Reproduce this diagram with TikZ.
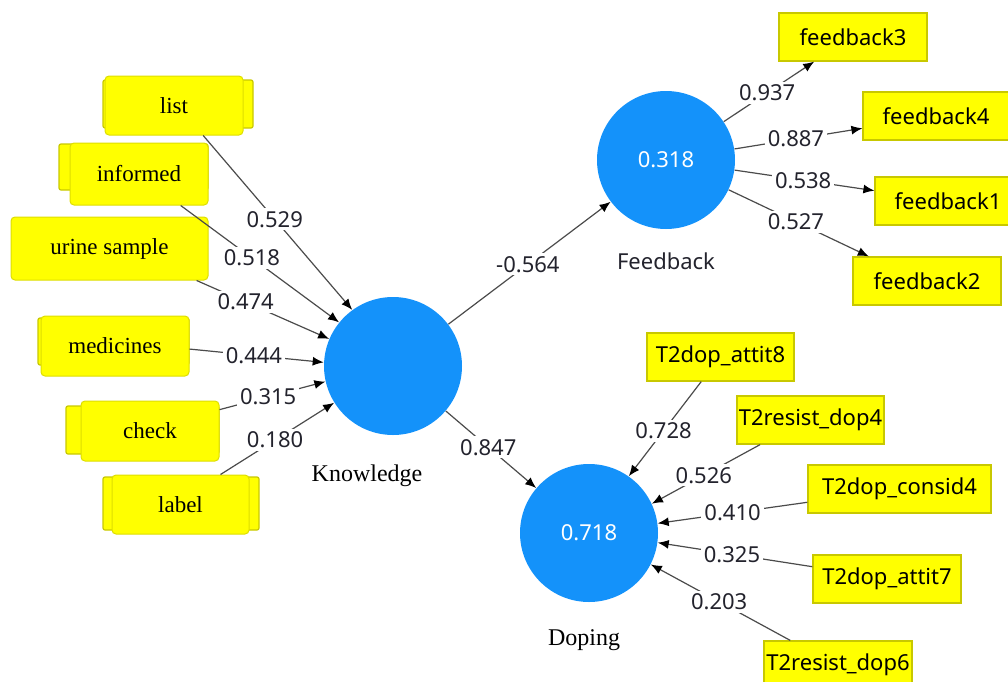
\documentclass[tikz,border=0pt]{standalone}
\usepackage{fontspec}
\setmainfont{Liberation Serif}
\setsansfont{Noto Sans}
\usetikzlibrary{calc,arrows.meta}
\definecolor{lvblue}{RGB}{20,146,250}
\definecolor{boxyellow}{RGB}{255,255,0}
\definecolor{boxedge}{RGB}{200,200,0}
\definecolor{linegray}{RGB}{75,75,75}
\definecolor{numcol}{RGB}{35,35,45}
\tikzset{
  latent/.style={circle, fill=lvblue, minimum size=69pt, inner sep=0pt, text=white,
    font=\sffamily\fontsize{11}{13}\selectfont},
  ind/.style={rectangle, fill=boxyellow, draw=boxedge, line width=0.6pt, minimum height=24pt,
    inner sep=0pt, font=\sffamily\fontsize{11}{13}\selectfont},
  frontbox/.style={rectangle, rounded corners=2pt, fill=boxyellow, draw=boxedge!60!boxyellow,
    line width=0.5pt, inner sep=0pt, font=\fontsize{11.5}{13}\selectfont},
  backbox/.style={rectangle, rounded corners=1pt, fill=boxyellow, draw=boxedge, line width=0.6pt, inner sep=0pt},
  lvname/.style={inner sep=0pt, font=\fontsize{12}{14}\selectfont},
  conn/.style={draw=linegray, line width=0.6pt, -{Latex[length=5.5pt,width=4.5pt,color=black]}},
  coef/.style={fill=white, inner sep=1.5pt, text=numcol, font=\sffamily\fontsize{11}{13}\selectfont},
}
\begin{document}
\begin{tikzpicture}[x=0.5pt, y=-0.5pt]
\useasboundingbox (0,0) rectangle (1008,681);
\clip (0,0) rectangle (1008,681);

% latent variables
\node[latent] (K) at (393,366) {};
\node[latent] (F) at (666,160) {0.318};
\node[latent] (D) at (589,533) {0.718};
\node[lvname] (Kn) at (367,476) {Knowledge};
\node[lvname, font=\sffamily\fontsize{11}{13}\selectfont, text=numcol] (Fn) at (666,261) {Feedback};
\node[lvname] (Dn) at (584,640) {Doping};

% knowledge indicators (back then front)
\node[backbox, minimum width=75pt, minimum height=24pt] (listb) at (178,104) {};
\node[frontbox, minimum width=69pt, minimum height=29.5pt] (list) at (174,105.5) {list};
\node[backbox, minimum width=74.5pt, minimum height=23pt] (informedb) at (133.5,167) {};
\node[frontbox, minimum width=69pt, minimum height=31pt] (informed) at (139,174) {informed};
\node[frontbox, minimum width=98.5pt, minimum height=31.5pt] (urine) at (109.5,248.5) {urine sample};
\node[backbox, minimum width=75.5pt, minimum height=23.5pt] (medicinesb) at (113.5,341.5) {};
\node[frontbox, minimum width=74pt, minimum height=30pt] (medicines) at (115,346) {medicines};
\node[backbox, minimum width=76.5pt, minimum height=24pt] (checkb) at (142.5,430) {};
\node[frontbox, minimum width=69pt, minimum height=30pt] (check) at (150,431) {check};
\node[backbox, minimum width=78pt, minimum height=26.5pt] (labelb) at (181,503.5) {};
\node[frontbox, minimum width=68.5pt, minimum height=29.5pt] (label) at (180.5,504.5) {label};

% feedback indicators
\node[ind, minimum width=74pt] (fb3) at (853,37) {feedback3};
\node[ind, minimum width=73pt] (fb4) at (936,116) {feedback4};
\node[ind, minimum width=73pt] (fb1) at (948,201) {feedback1};
\node[ind, minimum width=74pt] (fb2) at (927,281) {feedback2};

% doping indicators
\node[ind, minimum width=73.5pt] (a8) at (720.5,357) {T2dop\_attit8};
\node[ind, minimum width=73.5pt] (r4) at (810.5,420) {T2resist\_dop4};
\node[ind, minimum width=91.5pt] (c4) at (899.5,489) {T2dop\_consid4};
\node[ind, minimum width=74pt] (a7) at (887,579) {T2dop\_attit7};
\node[ind, minimum width=74pt] (r6) at (838,665) {T2resist\_dop6};

% knowledge paths
\draw[conn] ($(list.south west)!0.71!(list.south east)$) -- (K.126) node[coef, pos=0.48] {0.529};
\draw[conn] ($(informed.south west)!0.80!(informed.south east)$) -- (K.141) node[coef, pos=0.45] {0.518};
\draw[conn] ($(urine.south west)!0.94!(urine.south east)$) -- (K.157) node[coef, pos=0.37] {0.474};
\draw[conn] ($(medicines.north east)!0.55!(medicines.south east)$) -- (K.177) node[coef, pos=0.48] {0.444};
\draw[conn] ($(check.north east)!0.15!(check.south east)$) -- (K.193) node[coef, pos=0.46] {0.315};
\draw[conn] ($(label.north west)!0.79!(label.north east)$) -- (K.212) node[coef, pos=0.48] {0.180};

% structural paths
\draw[conn] (K) -- (F) node[coef, pos=0.49] {-0.564};
\draw[conn] (K) -- (D) node[coef, pos=0.47] {0.847};

% feedback outer loadings
\draw[conn] (F) -- ($(fb3.south west)!0.24!(fb3.south east)$) node[coef, pos=0.48] {0.937};
\draw[conn] (F) -- ($(fb4.north west)!0.75!(fb4.south west)$) node[coef, pos=0.48] {0.887};
\draw[conn] (F) -- ($(fb1.north west)!0.29!(fb1.south west)$) node[coef, pos=0.49] {0.538};
\draw[conn] (F) -- ($(fb2.north west)!0.11!(fb2.north east)$) node[coef, pos=0.48] {0.527};

% doping paths
\draw[conn] ($(a8.south west)!0.37!(a8.south east)$) -- (D.55) node[coef, pos=0.52] {0.728};
\draw[conn] ($(r4.south west)!0.16!(r4.south east)$) -- (D.25.5) node[coef, pos=0.52] {0.526};
\draw[conn] ($(c4.north west)!0.77!(c4.south west)$) -- (D.8) node[coef, pos=0.50] {0.410};
\draw[conn] ($(a7.north west)!0.25!(a7.south west)$) -- (D.-8) node[coef, pos=0.52] {0.325};
\draw[conn] ($(r6.north west)!0.18!(r6.north east)$) -- (D.-27) node[coef, pos=0.51] {0.203};
\end{tikzpicture}
\end{document}
